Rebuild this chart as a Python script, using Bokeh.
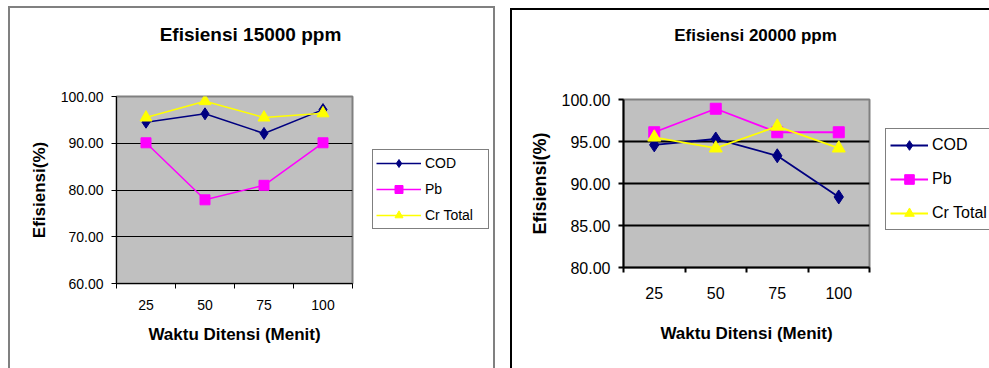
from bokeh.plotting import figure
from bokeh.models import (FixedTicker, Legend, LegendItem, Label, Range1d,
                          NumeralTickFormatter, InlineStyleSheet)
from bokeh.embed import file_html
from bokeh.resources import INLINE

# ---------------- data ----------------
times = ["25", "50", "75", "100"]
series_names = ["COD", "Pb", "Cr Total"]

y_ticks_15000 = [60, 70, 80, 90, 100]
cod_15000 = [94.5, 96.3, 92.1, 97.2]
pb_15000 = [90.1, 77.9, 81.0, 90.1]
cr_15000 = [95.5, 99.0, 95.5, 96.4]

y_ticks_20000 = [80, 85, 90, 95, 100]
cod_20000 = [94.6, 95.3, 93.3, 88.4]
pb_20000 = [96.1, 98.9, 96.1, 96.1]
cr_20000 = [95.5, 94.2, 96.8, 94.2]

title_15000 = "Efisiensi 15000 ppm"
title_20000 = "Efisiensi 20000 ppm"
x_title = "Waktu Ditensi (Menit)"
y_title = "Efisiensi(%)"

FONT = "Liberation Sans"
COLORS = ["#000080", "#FF00FF", "#FFFF00"]
MARKERS = ["diamond", "square", "triangle"]
W, H = 989, 368


def abs_style(left):
    return {"position": "absolute", "left": "%dpx" % left, "top": "0px", "overflow": "hidden"}


def make_chart(cfg):
    xs = [i + 1 for i in range(len(times))]
    css = (":host::after { content: ''; position: absolute; pointer-events: none; z-index: 100;"
           " box-sizing: border-box; %s }" % cfg["box_css"])
    p = figure(width=cfg["w"], height=H, output_backend="svg", toolbar_location=None,
               title=None,
               x_range=Range1d(0.5, len(times) + 0.5),
               y_range=Range1d(cfg["yticks"][0], cfg["yticks"][-1]),
               min_border_left=cfg["fl"], min_border_right=cfg["w"] - cfg["fr"],
               min_border_top=cfg["ft"], min_border_bottom=H - cfg["fb"],
               styles=abs_style(cfg["x0"]), stylesheets=[InlineStyleSheet(css=css)])
    p.background_fill_color = "#C0C0C0"
    p.border_fill_color = "white"
    p.outline_line_color = "#808080"
    p.outline_line_width = 2

    # x axis: labels at category centres, ticks at category boundaries
    bounds = [x - 0.5 for x in xs] + [xs[-1] + 0.5]
    p.xaxis.ticker = FixedTicker(ticks=xs, minor_ticks=bounds)
    p.xaxis.major_label_overrides = {x: t for x, t in zip(xs, times)}
    p.xaxis.major_tick_line_color = None
    p.xaxis.major_tick_out = 5
    p.xaxis.major_tick_in = 0
    p.xaxis.minor_tick_line_color = "black"
    p.xaxis.minor_tick_out = 5
    p.xaxis.minor_tick_in = 0
    p.xaxis.major_label_standoff = cfg["xls"]
    p.xaxis.axis_label = x_title
    p.xaxis.axis_label_standoff = cfg["xas"]
    p.xaxis.axis_label_text_font_size = cfg["xlab_fs"]

    p.yaxis.ticker = FixedTicker(ticks=cfg["yticks"], minor_ticks=[])
    p.yaxis.formatter = NumeralTickFormatter(format="0.00")
    p.yaxis.major_tick_out = 5
    p.yaxis.major_tick_in = 0
    p.yaxis.major_label_standoff = cfg["yls"]
    p.yaxis.axis_label = y_title
    p.yaxis.axis_label_standoff = cfg["yas"]
    p.yaxis.axis_label_text_font_size = cfg["ylab_fs"]

    for ax in (p.xaxis, p.yaxis):
        ax.axis_line_color = "black"
        ax.axis_line_width = cfg["aw"]
        ax.major_tick_line_width = cfg["aw"]
        ax.minor_tick_line_width = cfg["aw"]
        ax.major_label_text_font = FONT
        ax.major_label_text_font_size = cfg["tick_fs"]
        ax.major_label_text_color = "black"
        ax.axis_label_text_font = FONT
        ax.axis_label_text_font_style = "bold"
        ax.axis_label_text_color = "black"

    p.xgrid.grid_line_color = None
    p.ygrid.ticker = FixedTicker(ticks=cfg["yticks"][1:-1], minor_ticks=[])
    p.ygrid.grid_line_color = "black"
    p.ygrid.grid_line_width = cfg["gw"]

    for vals, col, mk, ms in zip(cfg["series"], COLORS, MARKERS, cfg["msizes"]):
        p.line(xs, vals, line_color=col, line_width=cfg["lw"])
        p.scatter(xs, vals, marker=mk, size=ms, fill_color=col, line_color=col)
    return p


left_cfg = dict(
    x0=0, w=500, fl=116, fr=352, ft=96, fb=283,
    yticks=y_ticks_15000, series=[cod_15000, pb_15000, cr_15000],
    msizes=[12, 10, 12], lw=1.5, aw=1, gw=1,
    tick_fs="14px", xlab_fs="17px", ylab_fs="17px",
    xls=11, xas=12, yls=8, yas=9,
    box_css="left: 8px; top: 6px; width: 487px; height: 362px; "
            "border: 2px solid #808080; border-bottom: none;",
)

right_cfg = dict(
    x0=500, w=489, fl=123, fr=369, ft=99, fb=267,
    yticks=y_ticks_20000, series=[cod_20000, pb_20000, cr_20000],
    msizes=[14, 11, 13], lw=1.8, aw=2, gw=2,
    tick_fs="16px", xlab_fs="17px", ylab_fs="18px",
    xls=14, xas=22, yls=8, yas=9,
    box_css="left: 10px; top: 8px; width: 479px; height: 360px; "
            "border-top: 2px solid black; border-left: 2px solid black;",
)

p1 = make_chart(left_cfg)
p2 = make_chart(right_cfg)

# ---- transparent overlay holding titles and legends (not clipped by the charts' frames) ----
ov = figure(width=W, height=H, output_backend="svg", toolbar_location=None, title=None,
            x_axis_type=None, y_axis_type=None, min_border=0,
            x_range=Range1d(0, 0.5), y_range=Range1d(0, 0.5),
            styles={"position": "absolute", "left": "0px", "top": "0px", "pointer-events": "none"})
ov.background_fill_alpha = 0
ov.border_fill_alpha = 0
ov.outline_line_color = None


def add_legend(cfg):
    xs = [i + 1 for i in range(len(times))]
    items = []
    # legend samples reuse the series (they fall outside this overlay's visible range)
    for name, vals, col, mk in zip(series_names, cfg["series"], COLORS, MARKERS):
        lr = ov.line(xs, vals, line_color=col, line_width=cfg["lw"])
        sr = ov.scatter(xs, vals, marker=mk, fill_color=col, line_color=col)
        items.append(LegendItem(label=name, renderers=[lr, sr]))
    height = 2 * cfg["pad"] + 3 * cfg["item_h"] + 2 * cfg["sp"]
    leg = Legend(items=items, location=(cfg["left"], H - (cfg["top"] + height)),
                 orientation="vertical")
    leg.label_text_font = FONT
    leg.label_text_font_size = cfg["fs"]
    leg.label_text_color = "black"
    leg.glyph_width = cfg["gl_w"]
    leg.glyph_height = cfg["item_h"]
    leg.label_height = cfg["item_h"]
    leg.label_width = cfg["lab_w"]
    leg.label_standoff = 4
    leg.spacing = cfg["sp"]
    leg.padding = cfg["pad"]
    leg.margin = 0
    leg.border_line_color = "black"
    leg.border_line_width = 1.5
    leg.background_fill_color = "white"
    leg.background_fill_alpha = 1
    ov.add_layout(leg, "center")


add_legend(dict(left=372, top=151, pad=3, item_h=20, sp=6, gl_w=45, lab_w=60, fs="14px", lw=1.5,
                series=[cod_15000, pb_15000, cr_15000]))
add_legend(dict(left=885, top=130, pad=4, item_h=24, sp=10, gl_w=38, lab_w=60, fs="16px", lw=1.8,
                series=[cod_20000, pb_20000, cr_20000]))

for text, cx, cy, fs in [(title_15000, 250, 34, "19px"), (title_20000, 755, 35, "17px")]:
    ov.add_layout(Label(x=cx, y=H - cy, x_units="screen", y_units="screen", text=text,
                        text_align="center", text_baseline="middle", text_font=FONT,
                        text_font_size=fs, text_font_style="bold", text_color="black"))

open("out.html", "w").write(file_html([p1, p2, ov], INLINE))
